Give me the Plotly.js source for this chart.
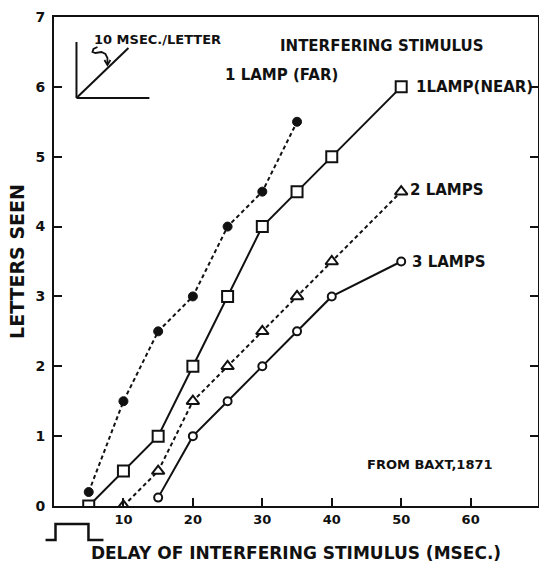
<!DOCTYPE html>
<html>
<head>
<meta charset="utf-8">
<script src="https://cdn.plot.ly/plotly-3.0.1.min.js"></script>
<style>html,body{margin:0;padding:0;background:#fff;}#chart{width:539px;height:564px;}</style>
</head>
<body>
<div id="chart"></div>
<script>
// Data
const farDelay = [5, 10, 15, 20, 25, 30, 35];
const farLetters = [0.2, 1.5, 2.5, 3, 4, 4.5, 5.5];

const nearDelay = [5, 10, 15, 20, 25, 30, 35, 40, 50];
const nearLetters = [0, 0.5, 1, 2, 3, 4, 4.5, 5, 6];

const twoDelay = [10, 15, 20, 25, 30, 35, 40, 50];
const twoLetters = [0, 0.5, 1.5, 2, 2.5, 3, 3.5, 4.5];

const threeDelay = [15, 20, 25, 30, 35, 40, 50];
const threeLetters = [0.12, 1, 1.5, 2, 2.5, 3, 3.5];

const xTickVals = [10, 20, 30, 40, 50, 60];
const xTickText = ['10', '20', '30', '40', '50', '60'];
const yTickVals = [0, 1, 2, 3, 4, 5, 6, 7];
const yTickText = ['0', '1', '2', '3', '4', '5', '6', '7'];

const FONT = 'DejaVu Sans, sans-serif';
const INK = '#111';

// pixel -> paper helpers for decorative drawing
const L = 53.5, R = 538, T = 17, B = 506;
const px = v => (v - L) / (R - L);
const py = v => (B - v) / (B - T);
function path(points) {
  return points.map((p, i) => (i ? 'L' : 'M') + px(p[0]).toFixed(4) + ',' + py(p[1]).toFixed(4)).join(' ');
}
const b = s => '<b>' + s + '</b>';

const traces = [
  {x: farDelay, y: farLetters, mode: 'lines+markers', name: '1 LAMP (FAR)',
   line: {color: INK, width: 2, dash: '4px,3px'},
   marker: {symbol: 'circle', size: 9, color: INK, line: {color: INK, width: 1}}},
  {x: nearDelay, y: nearLetters, mode: 'lines+markers', name: '1 LAMP (NEAR)',
   line: {color: INK, width: 2},
   marker: {symbol: 'square', size: 11, color: '#fff', line: {color: INK, width: 2}}},
  {x: twoDelay, y: twoLetters, mode: 'lines+markers', name: '2 LAMPS',
   line: {color: INK, width: 2, dash: '4px,3px'},
   marker: {symbol: 'triangle-up', size: 11, color: '#fff', line: {color: INK, width: 2}}},
  {x: threeDelay, y: threeLetters, mode: 'lines+markers', name: '3 LAMPS',
   line: {color: INK, width: 2},
   marker: {symbol: 'circle', size: 8, color: '#fff', line: {color: INK, width: 2}}}
];

const annFont = {family: FONT, size: 15, color: INK};
const layout = {
  width: 539, height: 564,
  margin: {l: 53.5, r: 1, t: 17, b: 58},
  paper_bgcolor: '#fff', plot_bgcolor: '#fff',
  showlegend: false,
  font: {family: FONT, color: INK},
  xaxis: {
    range: [0, 69.7], tickvals: xTickVals, ticktext: xTickText.map(b),
    ticks: 'inside', ticklen: 8, tickwidth: 2, tickcolor: INK,
    showline: true, linewidth: 2, linecolor: INK, mirror: true,
    showgrid: false, zeroline: false,
    tickfont: {family: FONT, size: 13, color: INK},
    title: {text: b('DELAY OF INTERFERING STIMULUS (MSEC.)'), font: {family: FONT, size: 17, color: INK}, standoff: 22}
  },
  yaxis: {
    range: [0, 7], tickvals: yTickVals, ticktext: yTickText.map(b),
    ticks: 'inside', ticklen: 8, tickwidth: 2, tickcolor: INK,
    showline: true, linewidth: 2, linecolor: INK, mirror: 'ticks',
    showgrid: false, zeroline: false, ticklabelstandoff: 4,
    tickfont: {family: FONT, size: 14, color: INK},
    title: {text: b('LETTERS SEEN'), font: {family: FONT, size: 19, color: INK}, standoff: 6}
  },
  annotations: [
    {x: 47.2, y: 6.58, xref: 'x', yref: 'y', xanchor: 'center', yanchor: 'middle', text: b('INTERFERING STIMULUS'), showarrow: false, font: annFont},
    {x: 24.4, y: 6.17, xref: 'x', yref: 'y', xanchor: 'left', yanchor: 'middle', text: b('1 LAMP (FAR)'), showarrow: false, font: annFont},
    {x: 51.9, y: 6.0, xref: 'x', yref: 'y', xanchor: 'left', yanchor: 'middle', text: b('1LAMP(NEAR)'), showarrow: false, font: annFont},
    {x: 51.0, y: 4.52, xref: 'x', yref: 'y', xanchor: 'left', yanchor: 'middle', text: b('2 LAMPS'), showarrow: false, font: annFont},
    {x: 51.2, y: 3.5, xref: 'x', yref: 'y', xanchor: 'left', yanchor: 'middle', text: b('3 LAMPS'), showarrow: false, font: annFont},
    {x: 54.1, y: 0.6, xref: 'x', yref: 'y', xanchor: 'center', yanchor: 'middle', text: b('FROM BAXT,1871'), showarrow: false, font: {family: FONT, size: 13, color: INK}},
    {x: px(92), y: py(39), xref: 'paper', yref: 'paper', xanchor: 'left', yanchor: 'middle', text: b('10 MSEC./LETTER'), showarrow: false, font: {family: FONT, size: 13, color: INK}}
  ],
  shapes: [
    {type: 'line', xref: 'paper', yref: 'paper', x0: px(76), y0: py(42), x1: px(76), y1: py(98), line: {color: INK, width: 2}},
    {type: 'line', xref: 'paper', yref: 'paper', x0: px(76), y0: py(98), x1: px(149), y1: py(98), line: {color: INK, width: 2}},
    {type: 'line', xref: 'paper', yref: 'paper', x0: px(77), y0: py(97), x1: px(128), y1: py(48), line: {color: INK, width: 2}},
    {type: 'path', xref: 'paper', yref: 'paper', path: path([[97,47],[93,49],[92,52],[95,53],[101,52],[105,54],[107,58],[107,64]]), line: {color: INK, width: 1.8}},
    {type: 'path', xref: 'paper', yref: 'paper', path: path([[104,60],[107,65],[110,60]]), line: {color: INK, width: 1.8}},
    {type: 'path', xref: 'paper', yref: 'paper', path: path([[45,540],[55,540],[55,524],[88,524],[88,540],[103,540]]), line: {color: INK, width: 2.5}}
  ]
};

Plotly.newPlot('chart', traces, layout, {staticPlot: true, displayModeBar: false});
</script>
</body>
</html>
